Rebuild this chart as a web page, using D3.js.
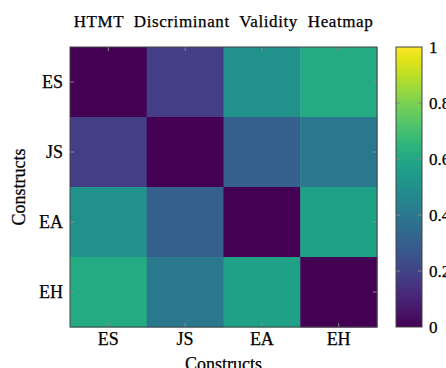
<!DOCTYPE html>
<html>
<head>
<meta charset="utf-8">
<script src="https://cdn.jsdelivr.net/npm/d3@7"></script>
<style>
  body { margin: 0; background: #fff; }
  text { font-family: "Liberation Serif", "DejaVu Serif", serif; fill: #000; stroke: #000; stroke-width: 0.25px; }
</style>
</head>
<body>
<div id="chart"></div>
<script>
// constructs and HTMT values (row construct, column construct)
const constructs = ["ES", "JS", "EA", "EH"];
const htmt = [
  [0.00, 0.18, 0.50, 0.61],
  [0.18, 0.00, 0.30, 0.40],
  [0.50, 0.30, 0.00, 0.57],
  [0.61, 0.40, 0.57, 0.00]
];
const barTicks = [0, 0.2, 0.4, 0.6, 0.8, 1];
const barTickLabels = ["0", "0.2", "0.4", "0.6", "0.8", "1"];

const w = 446, h = 368;
const margin = { top: 47, left: 70, right: 69, bottom: 41 };
const pw = w - margin.left - margin.right;  // 307
const ph = h - margin.top - margin.bottom;  // 280

const svg = d3.select("#chart").append("svg")
  .attr("width", w)
  .attr("height", h);

const xScale = d3.scaleBand().domain(constructs).range([margin.left, margin.left + pw]);
const yScale = d3.scaleBand().domain(constructs).range([margin.top, margin.top + ph]);
const color = d3.scaleSequential(d3.interpolateViridis).domain([0, 1]);

// flatten into cells
let cells = [];
htmt.forEach((row, i) => {
  row.forEach((v, j) => cells.push({ r: constructs[i], c: constructs[j], v: v }));
});

svg.selectAll("rect.cell")
  .data(cells)
  .enter()
  .append("rect")
  .attr("class", "cell")
  .attr("x", d => xScale(d.c))
  .attr("y", d => yScale(d.r))
  .attr("width", xScale.bandwidth() + 0.5)
  .attr("height", yScale.bandwidth() + 0.5)
  .attr("fill", d => color(d.v));

// inside ticks on all four sides
const tk = 4;
const tickCol = "#8a8a8a";
constructs.forEach(c => {
  const cx = xScale(c) + xScale.bandwidth() / 2;
  const cy = yScale(c) + yScale.bandwidth() / 2;
  svg.append("line").attr("x1", cx).attr("x2", cx).attr("y1", margin.top).attr("y2", margin.top + tk).attr("stroke", tickCol);
  svg.append("line").attr("x1", cx).attr("x2", cx).attr("y1", margin.top + ph).attr("y2", margin.top + ph - tk).attr("stroke", tickCol);
  svg.append("line").attr("y1", cy).attr("y2", cy).attr("x1", margin.left).attr("x2", margin.left + tk).attr("stroke", tickCol);
  svg.append("line").attr("y1", cy).attr("y2", cy).attr("x1", margin.left + pw).attr("x2", margin.left + pw - tk).attr("stroke", tickCol);
});

svg.append("rect")
  .attr("x", margin.left).attr("y", margin.top)
  .attr("width", pw).attr("height", ph)
  .attr("fill", "none").attr("stroke", "#444").attr("stroke-width", 1);

// tick labels
svg.selectAll("text.xt")
  .data(constructs)
  .enter()
  .append("text")
  .attr("x", d => xScale(d) + xScale.bandwidth() / 2)
  .attr("y", margin.top + ph + 18)
  .attr("text-anchor", "middle")
  .style("font-size", "18px")
  .text(d => d);

svg.selectAll("text.yt")
  .data(constructs)
  .enter()
  .append("text")
  .attr("x", margin.left - 7)
  .attr("y", d => yScale(d) + yScale.bandwidth() / 2 + 6)
  .attr("text-anchor", "end")
  .style("font-size", "18px")
  .text(d => d);

// titles
svg.append("text")
  .attr("x", margin.left + pw / 2)
  .attr("y", 27)
  .attr("text-anchor", "middle")
  .style("font-size", "17px")
  .style("letter-spacing", "0.6px")
  .style("word-spacing", "5px")
  .text("HTMT Discriminant Validity Heatmap");

svg.append("text")
  .attr("x", margin.left + pw / 2)
  .attr("y", 370)
  .attr("text-anchor", "middle")
  .style("font-size", "18px")
  .text("Constructs");

svg.append("text")
  .attr("transform", "translate(25," + (margin.top + ph / 2) + ") rotate(-90)")
  .attr("text-anchor", "middle")
  .style("font-size", "18px")
  .text("Constructs");

// colour bar
const bx = 396, bw = 26;
const barScale = d3.scaleLinear().domain([0, 1]).range([margin.top + ph, margin.top]);
const defs = svg.append("defs");
const grad = defs.append("linearGradient")
  .attr("id", "vgrad")
  .attr("x1", "0").attr("y1", "1").attr("x2", "0").attr("y2", "0");
d3.range(0, 1.0001, 0.05).forEach(t => {
  grad.append("stop").attr("offset", t).attr("stop-color", color(t));
});
svg.append("rect")
  .attr("x", bx).attr("y", margin.top)
  .attr("width", bw).attr("height", ph)
  .attr("fill", "url(#vgrad)");

barTicks.forEach((t, i) => {
  const y = barScale(t);
  if (t > 0 && t < 1) {
    svg.append("line").attr("x1", bx).attr("x2", bx + tk).attr("y1", y).attr("y2", y).attr("stroke", tickCol);
    svg.append("line").attr("x1", bx + bw).attr("x2", bx + bw - tk).attr("y1", y).attr("y2", y).attr("stroke", tickCol);
  }
  svg.append("text")
    .attr("x", bx + bw + 7)
    .attr("y", y + 6)
    .style("font-size", "17px")
    .text(barTickLabels[i]);
});

svg.append("rect")
  .attr("x", bx).attr("y", margin.top)
  .attr("width", bw).attr("height", ph)
  .attr("fill", "none").attr("stroke", "#444");
</script>
</body>
</html>
